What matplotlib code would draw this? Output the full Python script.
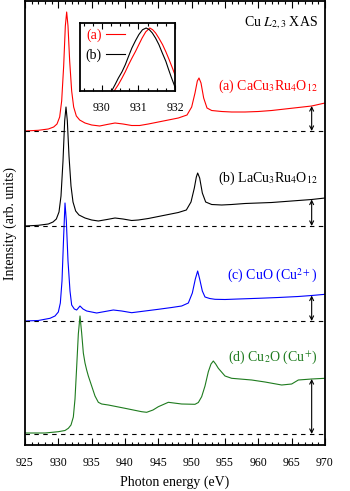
import numpy as np
import matplotlib
matplotlib.use("Agg")
import matplotlib.pyplot as plt

plt.rcParams['font.family'] = ['Liberation Serif', 'DejaVu Serif']
plt.rcParams['mathtext.fontset'] = 'stix'
FS_TICK = 8.5
FS_TEXT = 10

# ---------------- data ----------------
# (a) CaCu3Ru4O12
Ea = [925, 927, 928.5, 929.3, 929.8, 930.2, 930.5, 930.8, 931.05, 931.25, 931.45, 931.7,
      932.0, 932.3, 932.7, 933.2, 934, 935, 936.2, 937.3, 938.5, 939.7, 941, 942.2, 943.5,
      945, 946.5, 948, 949.3, 950.0, 950.5, 950.85, 951.1, 951.4, 951.8, 952.3, 953, 954.5,
      956, 958, 960, 962, 964, 966, 968, 970]
Ia = [0, 0.7, 2, 4, 7, 14, 30, 65, 105, 119, 105, 70,
      40, 24, 15, 11, 8, 6, 5, 6.5, 8, 7, 5.5, 5.5, 7,
      9, 11, 13, 16, 24, 38, 50, 53, 48, 33, 23, 20.5, 19.5,
      19, 19, 19.5, 20.5, 22, 23.5, 25, 28]

# (b) LaCu3Ru4O12
Eb = [925, 927, 928.5, 929.2, 929.7, 930.1, 930.4, 930.7, 930.95, 931.15, 931.35, 931.6,
      931.9, 932.2, 932.6, 933.1, 934, 935, 936.0, 937.3, 938.5, 939.7, 941, 942.0, 943.5,
      945, 946.5, 948, 949.2, 949.9, 950.4, 950.7, 950.9, 951.2, 951.6, 952.1, 953, 954.5,
      956, 958, 960, 962, 964, 966, 968, 970]
Ib = [0, 0.7, 2, 4, 7, 14, 30, 65, 105, 119, 105, 70,
      40, 24, 15, 11, 8, 6, 5, 6.5, 8, 7, 5.5, 6, 7.5,
      9.5, 11.5, 13.5, 16, 24, 38, 49, 53, 48, 33, 24, 21.5, 21,
      21.5, 22.5, 23, 23.5, 24.5, 25.5, 26.5, 28]

# (c) CuO (Cu2+)
Ec = [925, 927, 928.75, 929.5, 930.0, 930.3, 930.55, 930.8, 931.0, 931.2, 931.45, 931.75,
      932.0, 932.4, 932.75, 933.25, 933.7, 934.25, 935.0, 935.75, 937.0, 938.25, 939.5, 941,
      943, 945, 947, 948.5, 949.5, 950.1, 950.55, 950.9, 951.2, 951.6, 952.0, 952.7, 953.5,
      955, 957, 960, 963, 966, 968, 970]
Ic = [0, 0.5, 2.7, 5, 9, 18, 40, 85, 118, 100, 60, 30,
      16, 12, 11, 15, 12, 10, 9, 8, 9.5, 11, 10, 8.3,
      10, 11.7, 13.5, 15, 18, 28, 42, 50, 42, 30, 24, 22.5, 21.7,
      21.5, 22, 22.7, 23.5, 24.5, 25.5, 26.7]

# (d) Cu2O (Cu+)
Ed = [925, 928, 930, 931.0, 931.5, 931.9, 932.25, 932.5, 932.75, 933.0, 933.25, 933.5,
      933.75, 934.0, 934.25, 934.5, 935.0, 935.5, 936.0, 936.5, 937.5, 940, 942.5, 943.25,
      944.2, 945, 946.5, 948.5, 950.5, 951.0, 951.5, 952.0, 952.5, 952.9, 953.25, 953.6,
      954, 955, 956, 959, 961, 963.5, 965, 966, 968, 970]
Id = [1, 1, 2.3, 3.5, 5.7, 9, 17, 35, 67, 100, 118, 101,
      81, 71, 64, 58, 48, 38, 31.7, 30, 29, 25.7, 22.3, 21.7,
      24, 27.3, 31.7, 30, 29.7, 31.5, 37.3, 48, 62.3, 70, 73, 70,
      65.7, 58, 55.7, 54, 52, 49, 50, 54, 55, 55.7]

offsets = [314, 219, 124, 11]
colors = ['#ff0000', '#000000', '#0000ff', '#1e7b1e']
labels = [r'(a) CaCu$_3$Ru$_4$O$_{12}$', r'(b) LaCu$_3$Ru$_4$O$_{12}$',
          r'(c) CuO (Cu$^{2+}$)', r'(d) Cu$_2$O (Cu$^{+}$)']
label_y = [359, 267, 169, 88]

# inset (normalised, zoom on L3 peak)
Ein_a = [930.34, 930.45, 930.55, 930.64, 930.73, 930.82, 930.92, 931.01, 931.10, 931.2,
         931.31, 931.39, 931.47, 931.56, 931.66, 931.75, 931.84, 931.94, 932.03]
Iin_a = [0.0, 0.09, 0.187, 0.28, 0.384, 0.48, 0.581, 0.68, 0.778, 0.87,
         0.926, 0.90, 0.852, 0.775, 0.680, 0.575, 0.458, 0.32, 0.187]
Ein_b = [930.27, 930.36, 930.45, 930.55, 930.64, 930.73, 930.82, 930.92, 931.01, 931.11,
         931.21, 931.30, 931.38, 931.47, 931.56, 931.65, 931.75, 931.82, 931.89, 932.01]
Iin_b = [0.0, 0.09, 0.187, 0.28, 0.384, 0.51, 0.631, 0.74, 0.828, 0.90,
         0.926, 0.90, 0.852, 0.775, 0.680, 0.56, 0.433, 0.32, 0.212, 0.039]

xticks = [925, 930, 935, 940, 945, 950, 955, 960, 965, 970]
inset_xticks = [930, 931, 932]
arrow_E = 968

# ---------------- figure ----------------
fig = plt.figure(figsize=(3.5, 4.91), dpi=100)
ax = fig.add_axes([25/350, 46/491, 300/350, 444/491])

for E, I, off, c in zip([Ea, Eb, Ec, Ed], [Ia, Ib, Ic, Id], offsets, colors):
    ax.plot(E, np.array(I) + off, color=c, lw=0.8)
    ax.axhline(off, color='black', lw=0.8, ls=(0, (4, 4)))
    top = off + np.interp(arrow_E, E, I)
    ax.annotate('', xy=(arrow_E, top), xytext=(arrow_E, off),
                arrowprops=dict(arrowstyle='<->', lw=0.8, color='black',
                                shrinkA=0, shrinkB=0, mutation_scale=7))

for lab, y, c in zip(labels, label_y, colors):
    ax.text(968.9, y, lab, color=c, ha='right', va='center', fontsize=FS_TEXT)
ax.text(968.9, 422, r'Cu $L_{2,3}$ XAS', color='black', ha='right', va='center', fontsize=FS_TEXT)

ax.set_xlim(925, 970)
ax.set_ylim(0, 444)
ax.set_xticks(xticks)
ax.set_xticks(np.arange(925, 971, 1), minor=True)
ax.set_yticks([])
ax.tick_params(axis='x', which='both', direction='in', top=True, bottom=True,
               labelsize=FS_TICK, pad=9)
ax.tick_params(axis='x', which='major', length=5, width=0.8)
ax.tick_params(axis='x', which='minor', length=2.5, width=0.8)
for s in ax.spines.values():
    s.set_linewidth(1.3)
ax.set_xlabel('Photon energy (eV)', fontsize=FS_TEXT, labelpad=4)
ax.set_ylabel('Intensity (arb. units)', fontsize=FS_TEXT, labelpad=6)

# inset
ins = fig.add_axes([80/350, (491-90.7)/491, 95/350, 67.7/491])
ins.plot(Ein_a, Iin_a, color=colors[0], lw=0.8, label='(a)')
ins.plot(Ein_b, Iin_b, color=colors[1], lw=0.8, label='(b)')
ins.set_xlim(929.4, 932.0)
ins.set_ylim(0, 1)
ins.set_xticks(inset_xticks)
ins.set_xticks(np.arange(929.5, 932.01, 0.25), minor=True)
ins.set_yticks([])
ins.tick_params(axis='x', which='both', direction='in', top=True, bottom=True,
                labelsize=FS_TICK, pad=8)
ins.tick_params(axis='x', which='major', length=4, width=0.8)
ins.tick_params(axis='x', which='minor', length=2.5, width=0.8)
for s in ins.spines.values():
    s.set_linewidth(1.3)
leg = ins.legend(loc='upper left', frameon=False, markerfirst=False, fontsize=FS_TEXT,
                 handlelength=1.4, handletextpad=0.3, borderpad=0.2, borderaxespad=0.2,
                 labelspacing=0.45)
for t, c in zip(leg.get_texts(), colors[:2]):
    t.set_color(c)

fig.savefig('out.png', dpi=100)
